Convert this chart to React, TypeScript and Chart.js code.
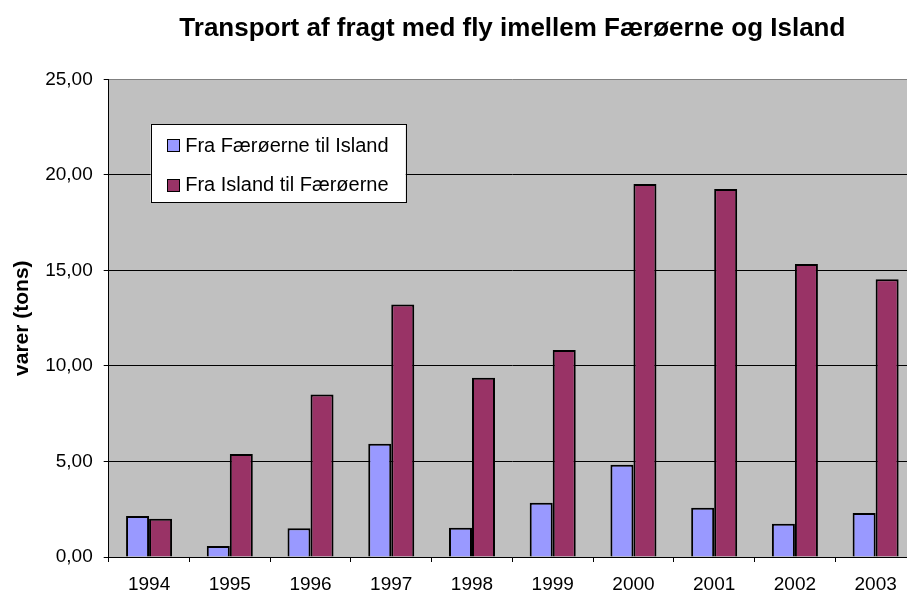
import React, { useEffect, useRef } from "react";
import { Chart, registerables } from "chart.js";

Chart.register(...registerables);

const years = ["1994", "1995", "1996", "1997", "1998", "1999", "2000", "2001", "2002", "2003"];
const fraFaeroerne = [2.15, 0.58, 1.5, 5.93, 1.53, 2.84, 4.83, 2.58, 1.74, 2.3];
const fraIsland = [2.0, 5.39, 8.51, 13.22, 9.38, 10.83, 19.52, 19.26, 15.33, 14.53];
const seriesNames = ["Fra Færøerne til Island", "Fra Island til Færøerne"];
const seriesColors = ["#9999FF", "#993366"];
const chartTitle = "Transport af fragt med fly imellem Færøerne og Island";
const yTitle = "varer (tons)";

const FONT = "'Liberation Sans', Arial, sans-serif";

const decorPlugin = {
  id: "decor",
  beforeDraw(chart: any) {
    const { ctx, chartArea } = chart;
    ctx.save();
    ctx.fillStyle = "#C0C0C0";
    ctx.fillRect(chartArea.left, chartArea.top, chartArea.right - chartArea.left, chartArea.bottom - chartArea.top);
    ctx.restore();
  },
  afterDraw(chart: any) {
    const { ctx, chartArea } = chart;
    ctx.save();
    // title
    ctx.fillStyle = "#000";
    ctx.font = `bold 26px ${FONT}`;
    ctx.textAlign = "center";
    ctx.textBaseline = "alphabetic";
    ctx.fillText(chartTitle, (chartArea.left + chartArea.right) / 2, 35.5);
    // y title
    ctx.save();
    ctx.translate(22.5, (chartArea.top + chartArea.bottom) / 2);
    ctx.rotate(-Math.PI / 2);
    ctx.font = `bold 21px ${FONT}`;
    ctx.textAlign = "center";
    ctx.textBaseline = "middle";
    ctx.fillText(yTitle, 0, 0);
    ctx.restore();
    // legend
    const bx = chartArea.left + 42;
    const by = chartArea.top + 45;
    const bw = 255;
    const bh = 78;
    ctx.fillStyle = "#FFFFFF";
    ctx.fillRect(bx, by, bw, bh);
    ctx.strokeStyle = "#000";
    ctx.lineWidth = 1;
    ctx.strokeRect(Math.round(bx) + 0.5, Math.round(by) + 0.5, bw, bh);
    ctx.font = `20px ${FONT}`;
    ctx.textAlign = "left";
    ctx.textBaseline = "middle";
    seriesNames.forEach((name, i) => {
      const cy = by + 21 + i * 39.5;
      ctx.fillStyle = seriesColors[i];
      ctx.fillRect(Math.round(bx + 16), Math.round(cy - 6), 12, 12);
      ctx.strokeStyle = "#000";
      ctx.strokeRect(Math.round(bx + 16) + 0.5, Math.round(cy - 6) + 0.5, 12, 12);
      ctx.fillStyle = "#000";
      ctx.fillText(name, bx + 34.5, cy + 1);
    });
    ctx.restore();
  },
};

export default function App() {
  const ref = useRef<HTMLCanvasElement | null>(null);
  useEffect(() => {
    if (!ref.current) return;
    const chart = new Chart(ref.current, {
      type: "bar",
      data: {
        labels: years,
        datasets: [
          {
            label: seriesNames[0],
            data: fraFaeroerne,
            backgroundColor: seriesColors[0],
            borderColor: "#000",
            borderWidth: 2,
          },
          {
            label: seriesNames[1],
            data: fraIsland,
            backgroundColor: seriesColors[1],
            borderColor: "#000",
            borderWidth: 2,
          },
        ],
      },
      options: {
        animation: false,
        responsive: false,
        devicePixelRatio: 1,
        datasets: { bar: { categoryPercentage: 0.57, barPercentage: 1 } },
        layout: { padding: { top: 79.3, right: 14, left: 0, bottom: 0 } },
        plugins: { legend: { display: false }, title: { display: false }, tooltip: { enabled: false } },
        scales: {
          x: {
            afterFit: (s: any) => {
              s.height = 37;
            },
            grid: { drawOnChartArea: false, drawTicks: true, tickLength: 5, color: "#000", tickColor: "#000" },
            border: { display: true, color: "#000", width: 1 },
            ticks: { color: "#000", font: { family: FONT, size: 19 }, padding: 11, maxRotation: 0 },
          },
          y: {
            min: 0,
            max: 25,
            afterFit: (s: any) => {
              s.width = 108.7;
            },
            grid: {
              color: (c: any) => (c.tick && c.tick.value === 25 ? "#808080" : "#000"),
              tickColor: "#000",
              tickLength: 5,
            },
            border: { display: true, color: "#000", width: 1 },
            ticks: {
              stepSize: 5,
              color: "#000",
              padding: 11,
              font: { family: FONT, size: 19 },
              callback: (v: any) => Number(v).toFixed(2).replace(".", ","),
            },
          },
        },
      },
      plugins: [decorPlugin],
    });
    return () => chart.destroy();
  }, []);
  return (
    <div style={{ position: "absolute", left: 0, top: 0, width: 907, height: 594, overflow: "hidden", background: "#fff" }}>
      <canvas ref={ref} width={930} height={594} style={{ width: 930, height: 594, display: "block" }} />
    </div>
  );
}
